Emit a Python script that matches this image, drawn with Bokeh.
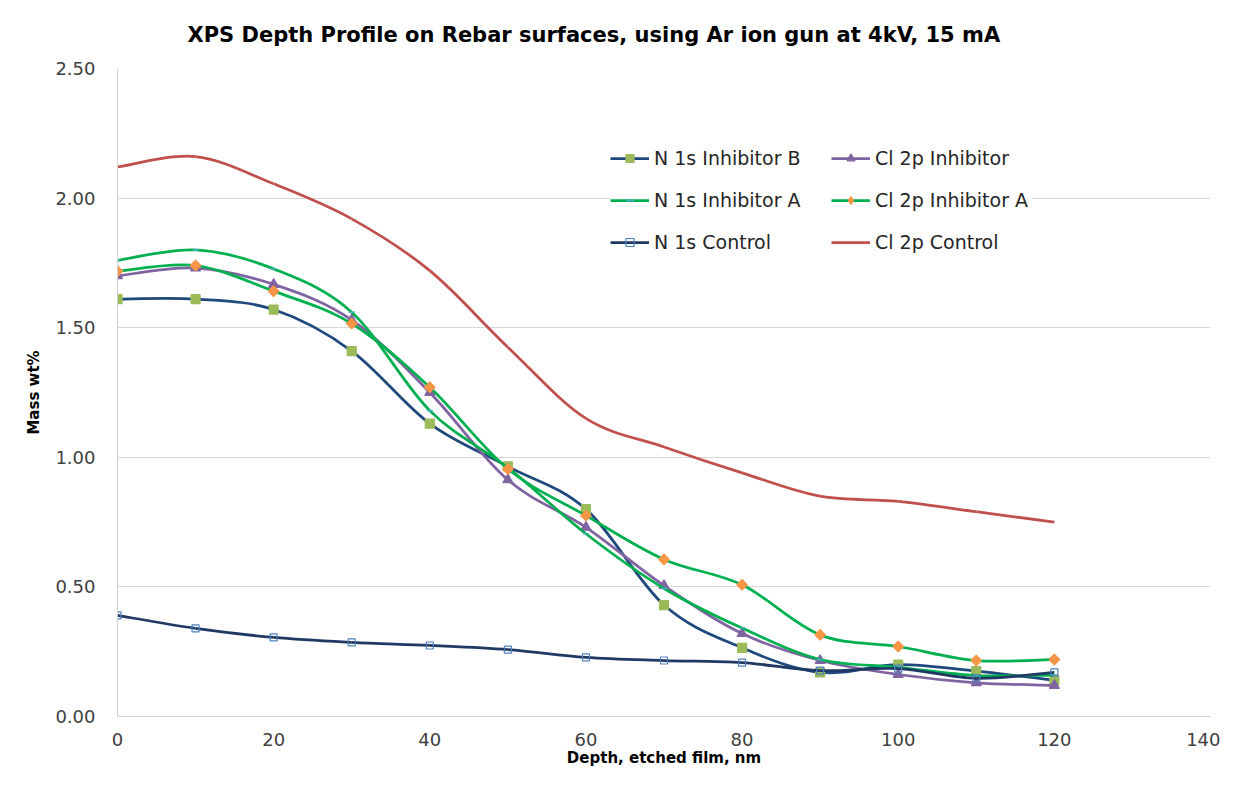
import math
from bokeh.plotting import figure
from bokeh.models import (Legend, LegendItem, ColumnDataSource, Range1d,
                          FixedTicker, NumeralTickFormatter, Title)
from bokeh.embed import file_html
from bokeh.resources import INLINE

depth = [0, 10, 20, 30, 40, 50, 60, 70, 80, 90, 100, 110, 120]

n1s_inh_b = [1.61, 1.61, 1.57, 1.41, 1.13, 0.965, 0.80, 0.43, 0.265, 0.17, 0.20, 0.175, 0.14]
cl2p_inh = [1.70, 1.73, 1.667, 1.53, 1.25, 0.913, 0.73, 0.505, 0.32, 0.216, 0.162, 0.13, 0.12]
n1s_inh_a = [1.76, 1.80, 1.727, 1.56, 1.18, 0.96, 0.705, 0.494, 0.341, 0.22, 0.19, 0.158, 0.16]
cl2p_inh_a = [1.718, 1.74, 1.641, 1.516, 1.27, 0.955, 0.775, 0.606, 0.508, 0.315, 0.27, 0.216, 0.22]
n1s_ctrl = [0.39, 0.34, 0.305, 0.286, 0.274, 0.258, 0.228, 0.216, 0.208, 0.177, 0.185, 0.147, 0.17]
cl2p_ctrl = [2.12, 2.16, 2.055, 1.92, 1.72, 1.425, 1.15, 1.04, 0.94, 0.85, 0.83, 0.79, 0.75]

x_ticks = [0, 20, 40, 60, 80, 100, 120, 140]
y_ticks = [0.0, 0.5, 1.0, 1.5, 2.0, 2.5]

TITLE = "XPS Depth Profile on Rebar surfaces, using Ar ion gun at 4kV, 15 mA"
FONT = "DejaVu Sans"


def bezier_source(xs, ys):
    n = len(xs)
    d = dict(x0=[], y0=[], x1=[], y1=[], cx0=[], cy0=[], cx1=[], cy1=[])
    for i in range(n - 1):
        a = i - 1 if i > 0 else i
        b = i + 2 if i + 2 < n else i + 1
        d["x0"].append(xs[i]); d["y0"].append(ys[i])
        d["x1"].append(xs[i + 1]); d["y1"].append(ys[i + 1])
        d["cx0"].append(xs[i] + (xs[i + 1] - xs[a]) / 6.0)
        d["cy0"].append(ys[i] + (ys[i + 1] - ys[a]) / 6.0)
        d["cx1"].append(xs[i + 1] - (xs[b] - xs[i]) / 6.0)
        d["cy1"].append(ys[i + 1] - (ys[b] - ys[i]) / 6.0)
    return ColumnDataSource(d)


p = figure(width=1220, height=770, x_range=Range1d(0, 140), y_range=Range1d(0, 2.5),
           output_backend="svg", toolbar_location=None,
           min_border_left=117, min_border_right=10, min_border_top=68, min_border_bottom=54)
p.outline_line_color = None
p.background_fill_color = "white"
p.border_fill_color = "white"

p.title = Title(text=TITLE, align="left", offset=70, vertical_align="top", standoff=40,
                text_font=FONT, text_font_size="21px", text_font_style="bold",
                text_color="black")

series = [
    # name, values, line color, marker, marker fill, marker line, size, angle, legend marker, legend size
    ("N 1s Inhibitor B", n1s_inh_b, "#1F497D", "square", "#9BBB59", "#9BBB59", 9, 0.0, "square", 9),
    ("Cl 2p Inhibitor", cl2p_inh, "#8064A2", "triangle", "#8064A2", "#8064A2", 10, 0.0, "triangle", 10),
    ("N 1s Inhibitor A", n1s_inh_a, "#00B050", "dash", "#4BACC6", "#4BACC6", 6, 0.0, "dash", 6),
    ("Cl 2p Inhibitor A", cl2p_inh_a, "#00B050", "square", "#F79646", "#F79646", 7.5, math.pi / 4, "diamond", 11),
    ("N 1s Control", n1s_ctrl, "#1F3864", "square", None, "#4F81BD", 7, 0.0, "square", 7),
    ("Cl 2p Control", cl2p_ctrl, "#C0504D", None, None, None, 0, 0.0, None, 0),
]

nan = float("nan")
items = {}
for name, vals, lc, mk, mf, ml, sz, ang, lmk, lsz in series:
    src = bezier_source(depth, vals)
    p.bezier(x0="x0", y0="y0", x1="x1", y1="y1", cx0="cx0", cy0="cy0", cx1="cx1", cy1="cy1",
             source=src, line_color=lc, line_width=2.75)
    rends = [p.line(x=[nan], y=[nan], line_color=lc, line_width=2.75)]
    if mk is not None:
        style = dict(fill_color=mf if mf else "white", fill_alpha=1 if mf else 0,
                     line_color=ml, line_width=1.5 if mk == "dash" else 1.2)
        p.scatter(x=depth, y=vals, marker=mk, size=sz, angle=ang, **style)
        rends.append(p.scatter(x=[nan], y=[nan], marker=lmk, size=lsz, **style))
    items[name] = LegendItem(label=name, renderers=rends)

order = ["N 1s Inhibitor B", "N 1s Inhibitor A", "N 1s Control",
         "Cl 2p Inhibitor", "Cl 2p Inhibitor A", "Cl 2p Control"]
legend = Legend(items=[items[k] for k in order], location=(493, 463), ncols=2,
                glyph_width=39, glyph_height=20, label_standoff=5, label_height=20,
                label_width=157, spacing=20, padding=5, margin=0,
                background_fill_color="white", background_fill_alpha=1.0,
                border_line_color=None, label_text_font=FONT,
                label_text_font_size="19px", label_text_color="#262626")
p.add_layout(legend, "center")

p.xaxis.ticker = FixedTicker(ticks=x_ticks)
p.yaxis.ticker = FixedTicker(ticks=y_ticks)
p.yaxis.formatter = NumeralTickFormatter(format="0.00")
for ax in (p.xaxis[0], p.yaxis[0]):
    ax.axis_line_color = "#D0D0D0"
    ax.axis_line_width = 1
    ax.major_tick_line_color = None
    ax.minor_tick_line_color = None
    ax.major_label_text_font = FONT
    ax.major_label_text_font_size = "18px"
    ax.major_label_text_color = "#404040"
    ax.axis_label_text_font = FONT
    ax.axis_label_text_font_size = "15px"
    ax.axis_label_text_font_style = "bold"
    ax.axis_label_text_color = "black"

p.xaxis.axis_label = "Depth, etched film, nm"
p.yaxis.axis_label = "Mass wt%"
p.xaxis.major_label_standoff = 10
p.xaxis.axis_label_standoff = 0
p.yaxis.major_label_standoff = 16
p.yaxis.axis_label_standoff = 9

p.xgrid.grid_line_color = None
p.ygrid.grid_line_color = "#D9D9D9"
p.ygrid.grid_line_width = 1

open("out.html", "w").write(file_html(p, INLINE))
